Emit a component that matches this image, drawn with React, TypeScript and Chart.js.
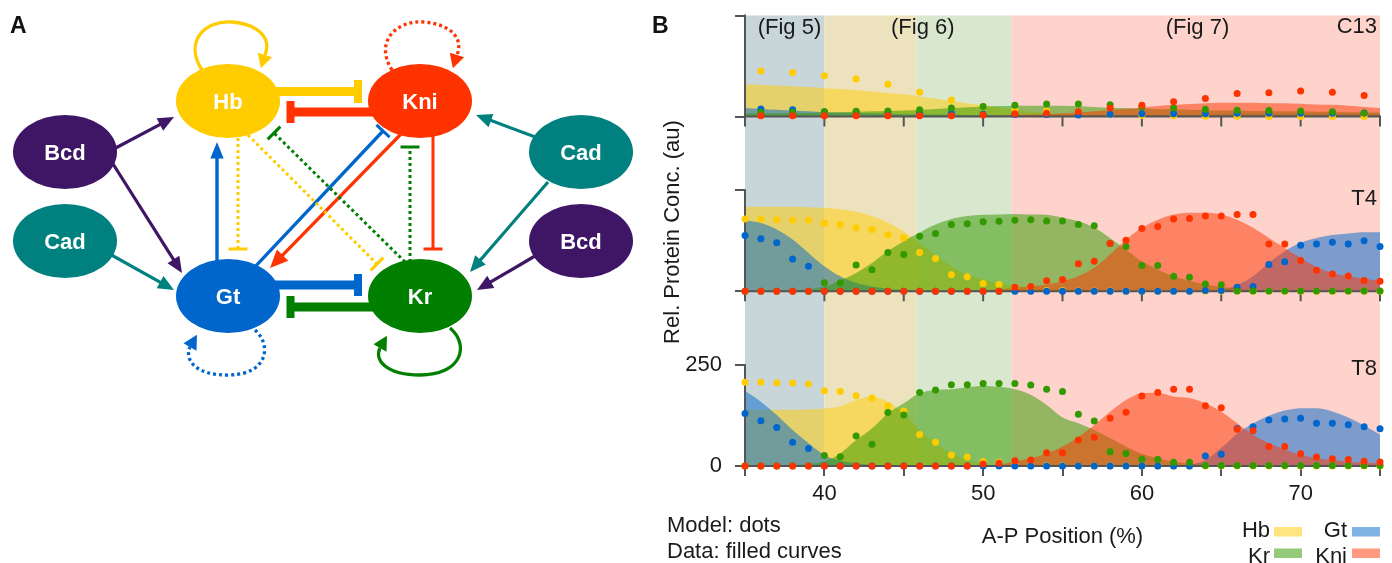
import React, { useEffect, useRef } from 'react';
import { Chart, registerables } from 'chart.js';

Chart.register(...registerables);

const FONT = '"Liberation Sans", Arial, Helvetica, sans-serif';
const TEXT = '#1a1a1a';
const AXIS = '#555555';

// ---------------- DATA ----------------
const xFine = [35, 36, 37, 38, 39, 40, 41, 42, 43, 44, 45, 46, 47, 48, 49, 50, 51, 52, 53, 54, 55, 56, 57, 58, 59, 60, 61, 62, 63, 64, 65, 66, 67, 68, 69, 70, 71, 72, 73, 74, 75];
const xCoarse = [36, 38, 40, 42, 44, 46, 48, 50, 52, 54, 56, 58, 60, 62, 64, 66, 68, 70, 72, 74];

// C13 model (dots, every 2%)
const c13HbModel = [113, 109, 101, 93, 80, 60, 41, 25, 18, 14, 9, 5, 3, 2, 1, 1, 0, 0, 0, 0];
const c13KrModel = [11, 11, 12, 13, 14, 17, 21, 25, 28, 31, 31, 29, 24, 21, 18, 16, 15, 14, 12, 9];
const c13GtModel = [19, 17, 12, 12, 11, 9, 8, 6, 5, 5, 4, 6, 7, 7, 7, 8, 8, 8, 8, 9];
const c13KniModel = [2, 2, 2, 2, 2, 2, 2, 4, 7, 8, 12, 21, 28, 37, 45, 57, 59, 63, 60, 52];
// C13 data (filled curves)
const c13HbData = [80, 79, 77, 75, 73, 70, 68, 65, 62, 58, 55, 50, 45, 39, 33, 28, 22, 17, 12, 8, 5, 3, 2, 1, 0, 0, 0, 0, 0, 0, 0, 0, 0, 0, 0, 0, 0, 0, 0, 0, 0];
const c13KrData = [8, 8, 8, 9, 9, 10, 11, 12, 13, 14, 15, 17, 19, 21, 23, 25, 26, 27, 27, 27, 27, 26, 24, 22, 21, 20, 19, 18, 17, 16, 15, 15, 14, 14, 13, 13, 12, 12, 11, 11, 10];
const c13GtData = [21, 19, 17, 15, 13, 11, 10, 9, 8, 7, 6, 6, 5, 5, 4, 4, 4, 4, 4, 4, 4, 4, 4, 4, 4, 4, 4, 4, 4, 4, 5, 5, 5, 5, 5, 6, 6, 6, 6, 6, 6];
const c13KniData = [0, 0, 0, 0, 0, 0, 0, 0, 0, 0, 0, 0, 0, 0, 0, 2, 3, 4, 5, 6, 8, 10, 13, 16, 19, 22, 26, 29, 31, 33, 34, 34, 34, 33, 33, 32, 30, 29, 27, 24, 21];

// T4 model
const t4HbModel = [179, 179, 177, 176, 176, 168, 165, 157, 153, 140, 132, 96, 81, 41, 36, 19, 17, 8, 5, 2, 2, 1, 1, 1, 0, 0, 0, 0, 0, 0, 0, 0, 0, 0, 0, 0, 0, 0, 0, 0, 0];
const t4KrModel = [0, 0, 0, 0, 0, 21, 21, 65, 53, 96, 91, 136, 143, 165, 167, 172, 173, 176, 177, 174, 174, 165, 162, 118, 111, 64, 64, 37, 35, 18, 16, 1, 1, 1, 1, 1, 1, 1, 1, 1, 1];
const t4GtModel = [138, 130, 120, 80, 62, 0, 0, 0, 0, 0, 0, 0, 0, 0, 0, 0, 0, 0, 0, 0, 0, 0, 0, 0, 0, 0, 0, 0, 0, 2, 2, 10, 12, 66, 73, 114, 117, 121, 117, 125, 111];
const t4KniModel = [0, 0, 0, 0, 0, 0, 0, 0, 0, 0, 0, 0, 0, 0, 0, 0, 0, 10, 12, 26, 29, 68, 74, 118, 126, 155, 160, 179, 180, 186, 186, 190, 190, 117, 117, 76, 52, 43, 38, 27, 25];
// T4 data
const t4HbData = [209, 209, 209, 209, 208, 206, 203, 197, 186, 170, 148, 120, 90, 62, 42, 29, 20, 14, 10, 7, 5, 3, 2, 1, 0, 0, 0, 0, 0, 0, 0, 0, 0, 0, 0, 0, 0, 0, 0, 0, 0];
const t4KrData = [0, 1, 1, 2, 5, 12, 26, 45, 70, 99, 124, 145, 165, 179, 186, 189, 190, 191, 190, 189, 182, 173, 157, 132, 103, 74, 54, 37, 26, 17, 11, 6, 3, 2, 0, 0, 0, 0, 0, 0, 0];
const t4GtData = [176, 169, 153, 128, 95, 62, 37, 21, 12, 6, 3, 1, 0, 0, 0, 0, 0, 0, 0, 0, 0, 0, 0, 0, 0, 0, 0, 0, 0, 1, 4, 15, 37, 70, 99, 120, 132, 139, 143, 146, 146];
const t4KniData = [0, 0, 0, 0, 0, 0, 0, 0, 0, 0, 0, 0, 0, 1, 2, 3, 5, 8, 12, 17, 25, 37, 58, 91, 128, 157, 177, 190, 194, 194, 190, 177, 157, 132, 107, 83, 60, 45, 37, 31, 26];

// T8 model
const t8HbModel = [207, 207, 206, 205, 203, 186, 184, 174, 168, 149, 136, 78, 59, 27, 22, 11, 9, 3, 2, 1, 1, 0, 0, 0, 0, 0, 0, 0, 0, 0, 0, 0, 0, 0, 0, 0, 0, 0, 0, 0, 0];
const t8KrModel = [0, 0, 0, 0, 0, 26, 23, 74, 54, 132, 126, 182, 188, 201, 201, 204, 204, 204, 200, 190, 184, 128, 111, 35, 31, 17, 16, 9, 9, 1, 1, 1, 1, 1, 1, 1, 1, 1, 1, 1, 1];
const t8GtModel = [130, 112, 95, 59, 43, 0, 0, 0, 0, 0, 0, 0, 0, 0, 0, 0, 0, 0, 0, 0, 0, 0, 0, 0, 0, 0, 0, 0, 0, 25, 29, 93, 97, 114, 116, 118, 106, 106, 102, 97, 92];
const t8KniModel = [0, 0, 0, 0, 0, 0, 0, 0, 0, 0, 0, 0, 0, 0, 0, 5, 7, 13, 15, 33, 33, 64, 71, 118, 133, 173, 182, 190, 190, 149, 144, 91, 87, 48, 48, 30, 22, 18, 16, 12, 10];
// T8 data
const t8HbData = [139, 139, 139, 139, 140, 142, 147, 163, 171, 159, 130, 89, 56, 31, 15, 5, 2, 1, 0, 0, 0, 0, 0, 0, 0, 0, 0, 0, 0, 0, 0, 0, 0, 0, 0, 0, 0, 0, 0, 0, 0];
const t8KrData = [0, 0, 1, 2, 5, 11, 31, 64, 93, 130, 155, 180, 188, 190, 195, 198, 196, 190, 176, 151, 120, 106, 89, 69, 48, 30, 19, 11, 6, 3, 1, 0, 0, 0, 0, 0, 0, 0, 0, 0, 0];
const t8GtData = [186, 159, 126, 89, 56, 27, 13, 7, 3, 1, 0, 0, 0, 0, 0, 0, 0, 0, 0, 0, 0, 0, 0, 0, 0, 0, 0, 0, 3, 15, 45, 80, 105, 124, 137, 143, 143, 135, 120, 100, 78];
const t8KniData = [0, 0, 0, 0, 0, 0, 0, 0, 0, 0, 0, 0, 0, 0, 0, 1, 3, 11, 19, 31, 48, 72, 101, 134, 163, 180, 181, 172, 168, 155, 134, 106, 77, 56, 41, 27, 19, 15, 11, 8, 7];

const genes = ['Hb', 'Kr', 'Gt', 'Kni'];
const geneColors = ['#ffcc00', '#339900', '#0066cc', '#ff3300'];
const geneFills = ['rgba(255,204,0,0.5)', 'rgba(51,153,0,0.52)', 'rgba(0,102,204,0.5)', 'rgba(255,51,0,0.5)'];
const dotOrder = [4, 2, 3, 1];
const fillOrder = [14, 12, 13, 11];

const panelNames = ['C13', 'T4', 'T8'];
const panelAxisIds = ['yC13', 'yT4', 'yT8'];
const panelMax = [250, 432, 432];
const panelLabelValue = [206, 214, 225];
const panelModelX = [xCoarse, xFine, xFine];
const panelModels = [
  [c13HbModel, c13KrModel, c13GtModel, c13KniModel],
  [t4HbModel, t4KrModel, t4GtModel, t4KniModel],
  [t8HbModel, t8KrModel, t8GtModel, t8KniModel],
];
const panelData = [
  [c13HbData, c13KrData, c13GtData, c13KniData],
  [t4HbData, t4KrData, t4GtData, t4KniData],
  [t8HbData, t8KrData, t8GtData, t8KniData],
];

const bandStart = [35, 40, 45.8, 51.8];
const bandEnd = [40, 45.8, 51.8, 75];
const bandColors = ['#c9d6d9', '#ece3be', '#d9e7ce', '#fdd3cb'];
const figLabels = ['(Fig 5)', '(Fig 6)', '(Fig 7)'];
const figLabelX = [37.8, 46.2, 63.5];
const xTickValues = [35, 40, 45, 50, 55, 60, 65, 70, 75];
const xTickLabels = ['', '40', '', '50', '', '60', '', '70', ''];
const yTickValues = [0, 250];
const legendLabels = ['Hb', 'Gt', 'Kr', 'Kni'];
const legendGene = [0, 2, 1, 3];

// ---------------- CHART ----------------
function buildDatasets() {
  const ds: any[] = [];
  panelNames.forEach((p, pi) => {
    genes.forEach((g, gi) => {
      ds.push({
        label: `${p} ${g} data`,
        isDots: false,
        data: xFine.map((x, i) => ({ x, y: panelData[pi][gi][i] })),
        xAxisID: 'x',
        yAxisID: panelAxisIds[pi],
        showLine: true,
        borderWidth: 0,
        borderColor: 'rgba(0,0,0,0)',
        backgroundColor: geneFills[gi],
        fill: 'origin',
        pointRadius: 0,
        pointHoverRadius: 0,
        cubicInterpolationMode: 'monotone',
        order: fillOrder[gi],
      });
      ds.push({
        label: `${p} ${g} model`,
        isDots: true,
        data: panelModelX[pi].map((x, i) => ({ x, y: panelModels[pi][gi][i] })),
        xAxisID: 'x',
        yAxisID: panelAxisIds[pi],
        showLine: false,
        fill: false,
        pointRadius: 3.5,
        pointHoverRadius: 3.5,
        pointBackgroundColor: geneColors[gi],
        pointBorderColor: geneColors[gi],
        pointBorderWidth: 0,
        clip: false,
        order: dotOrder[gi],
      });
    });
  });
  return ds;
}

function buildScales() {
  const scales: any = {
    x: {
      type: 'linear',
      position: 'bottom',
      min: 35,
      max: 75,
      afterBuildTicks: (s: any) => {
        s.ticks = xTickValues.map((v) => ({ value: v }));
      },
      afterFit: (s: any) => {
        s.height = 97;
        s.paddingLeft = 0;
        s.paddingRight = 0;
      },
      ticks: {
        autoSkip: false,
        maxRotation: 0,
        padding: 5,
        color: TEXT,
        font: { family: FONT, size: 22 },
        callback: (_v: any, i: number) => xTickLabels[i],
      },
      grid: { drawOnChartArea: false, drawTicks: true, tickLength: 10, color: AXIS, lineWidth: 2 },
      border: { display: false },
      title: {
        display: true,
        text: 'A-P Position (%)',
        color: TEXT,
        font: { family: FONT, size: 22 },
        padding: { top: 0, bottom: 13 },
      },
    },
  };
  panelAxisIds.forEach((id, pi) => {
    scales[id] = {
      type: 'linear',
      position: 'left',
      stack: 'panels',
      stackWeight: panelMax[pi],
      weight: 3 - pi,
      min: 0,
      max: panelMax[pi],
      afterBuildTicks: (s: any) => {
        s.ticks = yTickValues.map((v) => ({ value: v }));
      },
      afterFit: (s: any) => {
        s.width = 105;
        s.paddingTop = 0;
        s.paddingBottom = 0;
      },
      grid: { drawOnChartArea: false, drawTicks: true, tickLength: 10, color: AXIS, lineWidth: 2 },
      border: { display: false },
      ticks: {
        padding: 13,
        color: TEXT,
        font: { family: FONT, size: 22 },
        callback: (v: any) => (pi === 2 ? String(v) : ''),
      },
    };
  });
  return scales;
}

function drawPanelAxes(chart: any) {
  const { ctx, chartArea: ca, scales } = chart;
  const xs = scales.x;
  ctx.save();
  ctx.strokeStyle = AXIS;
  ctx.lineWidth = 2;
  panelAxisIds.forEach((id, pi) => {
    const ys = scales[id];
    const y0 = ys.getPixelForValue(0);
    const yTop = ys.getPixelForValue(yTickValues[1]);
    ctx.beginPath();
    ctx.moveTo(ca.left - 1, y0);
    ctx.lineTo(ca.right + 1, y0);
    ctx.moveTo(ca.left, y0 + 1);
    ctx.lineTo(ca.left, yTop - 1);
    if (pi < 2) {
      xTickValues.forEach((v) => {
        const px = xs.getPixelForValue(v);
        ctx.moveTo(px, y0);
        ctx.lineTo(px, y0 + 10);
      });
    }
    ctx.stroke();
  });
  ctx.restore();
}

function drawTexts(chart: any) {
  const { ctx, chartArea: ca, scales } = chart;
  const xs = scales.x;
  ctx.save();
  ctx.fillStyle = TEXT;
  ctx.textBaseline = 'alphabetic';
  ctx.font = `22px ${FONT}`;
  ctx.textAlign = 'center';
  figLabels.forEach((t, i) => ctx.fillText(t, xs.getPixelForValue(figLabelX[i]), ca.top + 18.5));
  ctx.textAlign = 'right';
  panelNames.forEach((t, pi) => ctx.fillText(t, ca.right - 3, scales[panelAxisIds[pi]].getPixelForValue(panelLabelValue[pi])));
  // y title
  ctx.save();
  ctx.translate(679, 232);
  ctx.rotate(-Math.PI / 2);
  ctx.textAlign = 'center';
  ctx.fillText('Rel. Protein Conc. (au)', 0, 0);
  ctx.restore();
  // notes
  ctx.textAlign = 'left';
  ctx.fillText('Model: dots', 667, 532);
  ctx.fillText('Data: filled curves', 667, 558);
  // legend
  const colRight = [1270, 1347];
  const swX = [1274, 1352];
  const rowBase = [536.5, 563];
  const swTop = [527, 548.5];
  legendLabels.forEach((t, i) => {
    const c = i % 2;
    const r = Math.floor(i / 2);
    ctx.textAlign = 'right';
    ctx.fillStyle = TEXT;
    ctx.fillText(t, colRight[c], rowBase[r]);
    ctx.fillStyle = geneFills[legendGene[i]];
    ctx.fillRect(swX[c], swTop[r], 28, 9.5);
  });
  // panel letter
  ctx.fillStyle = '#111';
  ctx.textAlign = 'left';
  ctx.font = `bold 23px ${FONT}`;
  ctx.fillText('B', 652, 33);
  ctx.restore();
}

const decorPlugin = {
  id: 'decor',
  beforeDraw(chart: any) {
    const { ctx, chartArea: ca, scales } = chart;
    const xs = scales.x;
    ctx.save();
    bandStart.forEach((b, i) => {
      const x0 = xs.getPixelForValue(b);
      const x1 = xs.getPixelForValue(bandEnd[i]);
      ctx.fillStyle = bandColors[i];
      ctx.fillRect(x0, ca.top, x1 - x0, ca.bottom - ca.top);
    });
    ctx.restore();
  },
  beforeDatasetsDraw(chart: any) {
    chart.$axesDone = false;
  },
  beforeDatasetDraw(chart: any, args: any) {
    const ds: any = chart.data.datasets[args.index];
    if (!ds.isDots || chart.$axesDone) return;
    chart.$axesDone = true;
    drawPanelAxes(chart);
  },
  afterDatasetsDraw(chart: any) {
    if (!chart.$axesDone) drawPanelAxes(chart);
  },
  afterDraw(chart: any) {
    drawTexts(chart);
  },
};

// ---------------- PANEL A (network diagram) ----------------
const NC = {
  hb: '#ffcc00',
  kni: '#ff3300',
  gt: '#0066cc',
  kr: '#007f00',
  bcd: '#3f1566',
  cad: '#00807e',
};

function ArrowEdge(props: any) {
  const { x1, y1, x2, y2, color, w = 3.2, L = 16, H = 7, dash } = props;
  const len = Math.hypot(x2 - x1, y2 - y1);
  const ux = (x2 - x1) / len;
  const uy = (y2 - y1) / len;
  const bx = x2 - ux * L;
  const by = y2 - uy * L;
  const px = -uy;
  const py = ux;
  return (
    <g>
      <line x1={x1} y1={y1} x2={bx + ux * 2} y2={by + uy * 2} stroke={color} strokeWidth={w} strokeDasharray={dash} />
      <polygon points={`${x2},${y2} ${bx + px * H},${by + py * H} ${bx - px * H},${by - py * H}`} fill={color} />
    </g>
  );
}

function InhibEdge(props: any) {
  const { x1, y1, x2, y2, color, w = 3, H = 9.5, bw = 3, dash } = props;
  const len = Math.hypot(x2 - x1, y2 - y1);
  const ux = (x2 - x1) / len;
  const uy = (y2 - y1) / len;
  const px = -uy;
  const py = ux;
  return (
    <g>
      <line x1={x1} y1={y1} x2={x2} y2={y2} stroke={color} strokeWidth={w} strokeDasharray={dash} />
      <line x1={x2 + px * H} y1={y2 + py * H} x2={x2 - px * H} y2={y2 - py * H} stroke={color} strokeWidth={bw} />
    </g>
  );
}

function Loop(props: any) {
  const { d, color, w = 3.3, dash, bx, by, dx, dy, L = 14, H = 7.5 } = props;
  const len = Math.hypot(dx, dy);
  const ux = dx / len;
  const uy = dy / len;
  const tx = bx + ux * L;
  const ty = by + uy * L;
  const px = -uy;
  const py = ux;
  return (
    <g>
      <path d={d} fill="none" stroke={color} strokeWidth={w} strokeDasharray={dash} />
      <polygon points={`${tx},${ty} ${bx + px * H},${by + py * H} ${bx - px * H},${by - py * H}`} fill={color} />
    </g>
  );
}

const nodes = [
  { label: 'Hb', cx: 228, cy: 101, fill: NC.hb },
  { label: 'Kni', cx: 420, cy: 101, fill: NC.kni },
  { label: 'Gt', cx: 228, cy: 296, fill: NC.gt },
  { label: 'Kr', cx: 420, cy: 296, fill: NC.kr },
  { label: 'Bcd', cx: 65, cy: 152, fill: NC.bcd },
  { label: 'Cad', cx: 65, cy: 241, fill: NC.cad },
  { label: 'Cad', cx: 581, cy: 152, fill: NC.cad },
  { label: 'Bcd', cx: 581, cy: 241, fill: NC.bcd },
];

function PanelA() {
  const dot = '3 3';
  return (
    <svg width={640} height={563} style={{ position: 'absolute', left: 0, top: 0 }} fontFamily={FONT}>
      <text x={10} y={33} fontSize={23} fontWeight="bold" fill="#111">A</text>
      {/* self loops */}
      <Loop d="M 202 70 C 184 42, 204 20, 232 22 C 258 24, 272 38, 265 55" color={NC.hb} bx={265} by={55} dx={-0.3} dy={0.95} />
      <Loop d="M 392 70 C 374 42, 396 20, 424 22 C 450 24, 464 38, 457 55" color={NC.kni} dash={dot} bx={457} by={55} dx={-0.3} dy={0.95} />
      <Loop d="M 255 330 C 272 345, 268 374, 230 375 C 196 376, 184 360, 190 347" color={NC.gt} dash={dot} bx={190} by={347} dx={0.5} dy={-0.87} />
      <Loop d="M 450 328 C 470 345, 462 375, 420 375 C 386 375, 374 360, 380 348" color={NC.kr} bx={380} by={348} dx={0.5} dy={-0.87} />
      {/* thick mutual repression */}
      <InhibEdge x1={270} y1={91.5} x2={358} y2={91.5} color={NC.hb} w={9} H={11.5} bw={8} />
      <InhibEdge x1={380} y1={112} x2={290.5} y2={112} color={NC.kni} w={9} H={11} bw={8} />
      <InhibEdge x1={270} y1={285} x2={358} y2={285} color={NC.gt} w={9} H={11} bw={8} />
      <InhibEdge x1={380} y1={307} x2={290.5} y2={307} color={NC.kr} w={9} H={11} bw={8} />
      {/* vertical edges */}
      <ArrowEdge x1={217} y1={265} x2={217} y2={142} color={NC.gt} w={3.4} L={16.5} H={6.7} />
      <InhibEdge x1={238} y1={138} x2={238} y2={249} color={NC.hb} dash={dot} />
      <InhibEdge x1={433} y1={135} x2={433} y2={249} color={NC.kni} />
      <InhibEdge x1={410} y1={262} x2={410} y2={147} color={NC.kr} dash={dot} />
      {/* diagonals */}
      <InhibEdge x1={252} y1={270} x2={383} y2={131} color={NC.gt} w={3.3} H={9} />
      <ArrowEdge x1={402} y1={133} x2={270} y2={268} color={NC.kni} w={3.3} L={18} H={8} />
      <InhibEdge x1={248} y1={135} x2={377} y2={264} color={NC.hb} dash={dot} H={9} />
      <InhibEdge x1={405} y1={262} x2={274} y2={133} color={NC.kr} dash={dot} H={9} />
      {/* maternal inputs */}
      <ArrowEdge x1={110} y1={151} x2={174} y2={117} color={NC.bcd} />
      <ArrowEdge x1={108} y1={156} x2={182} y2={273} color={NC.bcd} />
      <ArrowEdge x1={108} y1={253} x2={174} y2={290} color={NC.cad} />
      <ArrowEdge x1={538} y1={138} x2={476} y2={115} color={NC.cad} />
      <ArrowEdge x1={548} y1={182} x2={470} y2={272} color={NC.cad} />
      <ArrowEdge x1={535} y1={256} x2={477} y2={290} color={NC.bcd} />
      {/* nodes */}
      {nodes.map((n, i) => (
        <g key={i}>
          <ellipse cx={n.cx} cy={n.cy} rx={52} ry={37} fill={n.fill} />
          <text x={n.cx} y={n.cy + 8} textAnchor="middle" fontSize={22} fontWeight="bold" fill="#ffffff">
            {n.label}
          </text>
        </g>
      ))}
    </svg>
  );
}

export default function App() {
  const ref = useRef<HTMLCanvasElement>(null);
  useEffect(() => {
    const canvas = ref.current;
    if (!canvas) return;
    const chart = new Chart(canvas, {
      type: 'line',
      data: { datasets: buildDatasets() },
      options: {
        animation: false,
        responsive: false,
        maintainAspectRatio: false,
        devicePixelRatio: 1,
        events: [],
        layout: { padding: { left: 640, right: 12, top: 15.5, bottom: 0 } },
        scales: buildScales(),
        plugins: {
          legend: { display: false },
          title: { display: false },
          tooltip: { enabled: false },
        },
      } as any,
      plugins: [decorPlugin],
    });
    return () => chart.destroy();
  }, []);
  return (
    <div style={{ position: 'absolute', left: 0, top: 0, width: 1392, height: 563, background: '#ffffff', overflow: 'hidden' }}>
      <canvas ref={ref} width={1392} height={563} style={{ position: 'absolute', left: 0, top: 0, width: 1392, height: 563 }} />
      <PanelA />
    </div>
  );
}
